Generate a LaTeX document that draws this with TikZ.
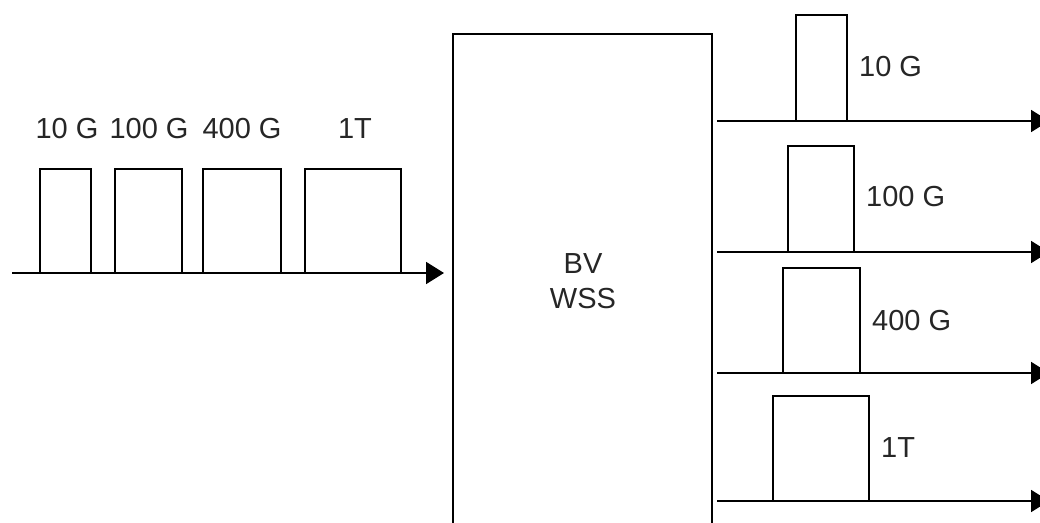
\documentclass[tikz,border=0pt]{standalone}
\usepackage{fontspec}
\setmainfont{Liberation Sans}
\usetikzlibrary{arrows.meta}
\tikzset{
  ln/.style={line width=1.8pt},
  arr/.style={ln,-{Triangle[length=18pt,width=22pt]}},
  lbl/.style={font=\fontsize{29}{32}\selectfont,inner sep=0pt,text=black!85},
  pulse/.style={ln}
}
\begin{document}
\begin{tikzpicture}[x=1pt,y=-1pt]
\useasboundingbox (0,0) rectangle (1040,522);
\begin{scope}
\clip (0,0) rectangle (1040,522);
% WSS box (bottom is cut by the picture edge)
\draw[ln] (453,530) -- (453,34) -- (712,34) -- (712,530);
\node[lbl,align=center] (wss) at (583,281) {BV\\[3pt]WSS};
% input
\coordinate (in0) at (12,273);
\coordinate (in1) at (444,273);
\draw[pulse] (40,273) -- (40,169) -- (91,169) -- (91,273);
\draw[pulse] (115,273) -- (115,169) -- (182,169) -- (182,273);
\draw[pulse] (203,273) -- (203,169) -- (281,169) -- (281,273);
\draw[pulse] (305,273) -- (305,169) -- (401,169) -- (401,273);
\draw[arr] (in0) -- (in1);
\node[lbl] (i10) at (67,129) {10 G};
\node[lbl] (i100) at (149,129) {100 G};
\node[lbl] (i400) at (242,129) {400 G};
\node[lbl] (i1t) at (355,129) {1T};
% outputs
\coordinate (o1a) at (717,121); \coordinate (o1b) at (1049,121);
\coordinate (o2a) at (717,252); \coordinate (o2b) at (1049,252);
\coordinate (o3a) at (717,373); \coordinate (o3b) at (1049,373);
\coordinate (o4a) at (717,501); \coordinate (o4b) at (1049,501);
\draw[pulse] (796,121) -- (796,15) -- (847,15) -- (847,121);
\draw[pulse] (788,252) -- (788,146) -- (854,146) -- (854,252);
\draw[pulse] (783,373) -- (783,268) -- (860,268) -- (860,373);
\draw[pulse] (773,501) -- (773,396) -- (869,396) -- (869,501);
\draw[arr] (o1a) -- (o1b);
\draw[arr] (o2a) -- (o2b);
\draw[arr] (o3a) -- (o3b);
\draw[arr] (o4a) -- (o4b);
\node[lbl,anchor=west] (l10) at (859,67) {10 G};
\node[lbl,anchor=west] (l100) at (866,197) {100 G};
\node[lbl,anchor=west] (l400) at (872,321) {400 G};
\node[lbl,anchor=west] (l1t) at (881,448) {1T};
\end{scope}
\end{tikzpicture}
\end{document}
